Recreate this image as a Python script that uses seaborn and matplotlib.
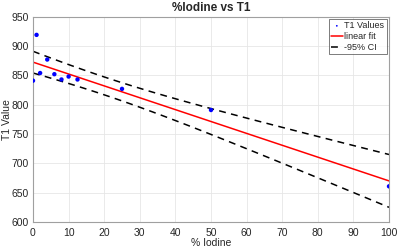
import numpy as np
import pandas as pd
import matplotlib
matplotlib.use("Agg")
import matplotlib.pyplot as plt
import seaborn as sns

# data
iodine = [0, 1, 2, 4, 6, 8, 10, 12.5, 25, 50, 100]
t1 = [841, 919, 854, 877, 852, 843, 848, 843, 827, 791, 661]
x_ticks = list(range(0, 101, 10))
y_ticks = list(range(600, 951, 50))
t_crit = 2.262  # t(0.975, n-2 = 9)

sns.set_style("whitegrid")
plt.rcParams['font.family'] = ['Liberation Sans', 'DejaVu Sans']

df = pd.DataFrame({'iodine': iodine, 't1': t1})

# linear fit and 95% confidence bounds of the mean
x = np.array(iodine, dtype=float)
y = np.array(t1, dtype=float)
slope, intercept = np.polyfit(x, y, 1)
n = len(x)
s = np.sqrt(np.sum((y - (slope * x + intercept)) ** 2) / (n - 2))
sxx = np.sum((x - x.mean()) ** 2)
xf = np.linspace(0, 100, 101)
yf = slope * xf + intercept
half = t_crit * s * np.sqrt(1 / n + (xf - x.mean()) ** 2 / sxx)
fit = pd.DataFrame({'x': xf, 'fit': yf, 'lo': yf - half, 'hi': yf + half})

fig = plt.figure(figsize=(4.0, 2.49), dpi=100)
ax = fig.add_axes([0.0825, 0.108, 0.89, 0.825])

sns.scatterplot(data=df, x='iodine', y='t1', ax=ax, color='blue', s=10,
                edgecolor='none', label='T1 Values', zorder=3)
sns.lineplot(data=fit, x='x', y='fit', ax=ax, color='red', lw=1.1,
             label='linear fit')
sns.lineplot(data=fit, x='x', y='hi', ax=ax, color='black', lw=1.1,
             dashes=(4.5, 3.5), label='-95% CI')
ax.plot(fit['x'], fit['lo'], color='black', lw=1.1, dashes=(4.5, 3.5))

ax.set_xlim(0, 100)
ax.set_ylim(600, 950)
ax.set_xticks(x_ticks)
ax.set_yticks(y_ticks)
ax.tick_params(labelsize=7.5, colors='#262626', length=0)
ax.tick_params(axis='x', pad=4)
ax.tick_params(axis='y', pad=3)
ax.grid(True, color='#e6e6e6', lw=0.6)
for sp in ax.spines.values():
    sp.set_color('#a0a0a0')
    sp.set_linewidth(0.8)

ax.set_title('%Iodine vs T1', fontsize=8.5, fontweight='bold', pad=4)
ax.set_xlabel('% Iodine', fontsize=7.5, labelpad=0)
ax.set_ylabel('T1 Value', fontsize=7.5)
ax.yaxis.set_label_coords(-0.058, 0.5)

leg = ax.legend(loc='upper right', fontsize=6.5, frameon=True, fancybox=False,
                handlelength=1.3, handletextpad=0.2, borderpad=0.25,
                labelspacing=0.2, borderaxespad=0.25, markerscale=0.4)
leg.get_frame().set_edgecolor('#404040')
leg.get_frame().set_linewidth(0.6)

fig.savefig('out.png', dpi=100)
